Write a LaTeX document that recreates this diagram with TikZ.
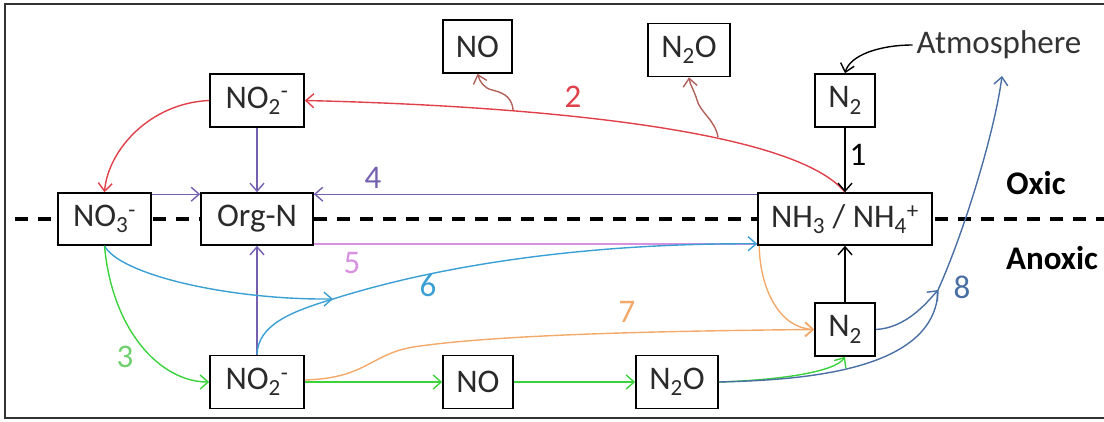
\documentclass[tikz,border=0pt]{standalone}
\usepackage{fontspec}
\setmainfont{Carlito}
\usetikzlibrary{arrows.meta}
\definecolor{cred}{HTML}{E0404A}
\definecolor{cwig}{HTML}{B0605A}
\definecolor{cpur}{HTML}{7560B0}
\definecolor{cpink}{HTML}{D890E0}
\definecolor{cteal}{HTML}{3AA0D4}
\definecolor{cgreen}{HTML}{3CD23C}
\definecolor{clgreen}{HTML}{70D070}
\definecolor{corange}{HTML}{F2A96A}
\definecolor{cblue}{HTML}{4A6FA5}
\definecolor{ctext}{HTML}{2A2A2A}
\newcommand{\fsz}{\fontsize{33}{38}\selectfont}
\tikzset{
  box/.style={draw=black, line width=1.6pt, fill=white, inner sep=0pt, minimum height=53pt, text=ctext, font=\fsz},
  lbl/.style={font=\fsz, inner sep=0pt},
  arr/.style={line width=1.4pt, -{Straight Barb[length=8pt,width=14pt,line width=1.4pt]}},
  ln/.style={line width=1.4pt},
}
\begin{document}
\begin{tikzpicture}[x=1pt,y=-1pt]
\useasboundingbox (0,0) rectangle (1104,421);
% frame
\draw[line width=2pt, draw=black!80] (1106,4) -- (5,4) -- (5,418) -- (1106,418);
% dashed oxic/anoxic line
\draw[line width=3.2pt, dash pattern=on 13pt off 10pt] (15,219) -- (1104,219);
% nodes
\node[box, minimum width=69pt] (noT) at (477.5,46.5) {NO};
\node[box, minimum width=82pt] (n2oT) at (689,50) {N\textsubscript{2}O};
\node[box, minimum width=94pt] (no2T) at (257,100.5) {NO\textsubscript{2}\textsuperscript{-}};
\node[box, minimum width=60pt] (n2T) at (845,100.5) {N\textsubscript{2}};
\node[box, minimum width=93pt, minimum height=52pt] (no3) at (104.5,219) {NO\textsubscript{3}\textsuperscript{-}};
\node[box, minimum width=112pt, minimum height=52pt] (org) at (257,219) {Org-N};
\node[box, minimum width=174pt, minimum height=52pt] (nh) at (845,219) {NH\textsubscript{3} / NH\textsubscript{4}\textsuperscript{+}};
\node[box, minimum width=60pt] (n2B) at (845,329.5) {N\textsubscript{2}};
\node[box, minimum width=94pt] (no2B) at (257,382) {NO\textsubscript{2}\textsuperscript{-}};
\node[box, minimum width=70pt] (noB) at (478,382) {NO};
\node[box, minimum width=82pt] (n2oB) at (677,382) {N\textsubscript{2}O};
\node[lbl, text=black!80] (atm) at (999,45) {Atmosphere};
\node[lbl, font=\fsz\bfseries] (oxic) at (1036,183) {Oxic};
\node[lbl, font=\fsz\bfseries] (anoxic) at (1052,258) {Anoxic};
% coordinates
\coordinate (w1) at (513,110);
\coordinate (w2) at (718,137);
\coordinate (m6) at (333,299);
\coordinate (j8) at (938,290);
\coordinate (a8) at (1002,76);
% labels
\node[lbl, text=cred] (l2) at (573,97) {2};
\node[lbl, text=black] (l1) at (858,155) {1};
\node[lbl, text=cpur] (l4) at (373,178) {4};
\node[lbl, text=cpink] (l5) at (352,263) {5};
\node[lbl, text=cteal] (l6) at (428,285) {6};
\node[lbl, text=clgreen] (l3) at (125,357) {3};
\node[lbl, text=corange] (l7) at (627,312) {7};
\node[lbl, text=cblue] (l8) at (962,287) {8};
% red 2
\draw[arr, cred] (nh.north) .. controls (790,125) and (500,105) .. (no2T.east);
\draw[arr, cred] (no2T.west) .. controls (150,103) and (108,150) .. (no3.north);
\draw[arr, cwig] (w1) .. controls (512,95) and (500,92) .. (492,90) .. controls (484,88) and (480,82) .. (noT.south);
\draw[arr, cwig] (w2) .. controls (715,120) and (700,112) .. (697,100) .. controls (694,90) and (690,85) .. (n2oT.south);
% purple
\draw[arr, cpur] (no2T.south) -- (org.north);
\draw[arr, cpur] ([yshift=-2pt]no3.north east) -- ([yshift=-2pt]org.north west);
\draw[arr, cpur] ([yshift=-2pt]nh.north west) -- ([yshift=-2pt]org.north east);
\draw[arr, cpur] (no2B.north) -- (org.south);
% pink 5
\draw[ln, cpink] ([yshift=2pt]org.south east) -- ([yshift=2pt]nh.south west);
% teal 6
\draw[arr, cteal] (no3.south) .. controls (120,275) and (230,300) .. (m6);
\draw[arr, cteal] (no2B.north) .. controls (258,325) and (290,312) .. (m6) .. controls (450,262) and (600,243) .. ([yshift=2pt]nh.south west);
% green 3
\draw[arr, cgreen] (no3.south) .. controls (112,330) and (160,382) .. (no2B.west);
\draw[arr, cgreen] (no2B.east) -- (noB.west);
\draw[arr, cgreen] (noB.east) -- (n2oB.west);
\draw[arr, cgreen] (n2oB.east) .. controls (780,380) and (835,372) .. (n2B.south);
% orange 7
\draw[arr, corange] ([yshift=2pt]no2B.east) .. controls (370,378) and (370,352) .. (420,346) .. controls (500,335) and (650,331) .. (n2B.west);
\draw[arr, corange] ([xshift=2pt]nh.south west) .. controls (760,290) and (780,328) .. (n2B.west);
% black
\draw[arr, black] (n2B.north) -- (nh.south);
\draw[arr, black] (n2T.south) -- (nh.north);
\draw[arr, black] ([xshift=-4pt]atm.west) .. controls (880,45) and (850,55) .. (n2T.north);
% blue 8
\draw[ln, cblue] (n2oB.east) .. controls (800,380) and (936,372) .. (j8);
\draw[arr, cblue] (n2B.east) .. controls (905,328) and (925,305) .. (j8);
\draw[arr, cblue] (j8) .. controls (965,230) and (995,130) .. (a8);
\end{tikzpicture}
\end{document}
